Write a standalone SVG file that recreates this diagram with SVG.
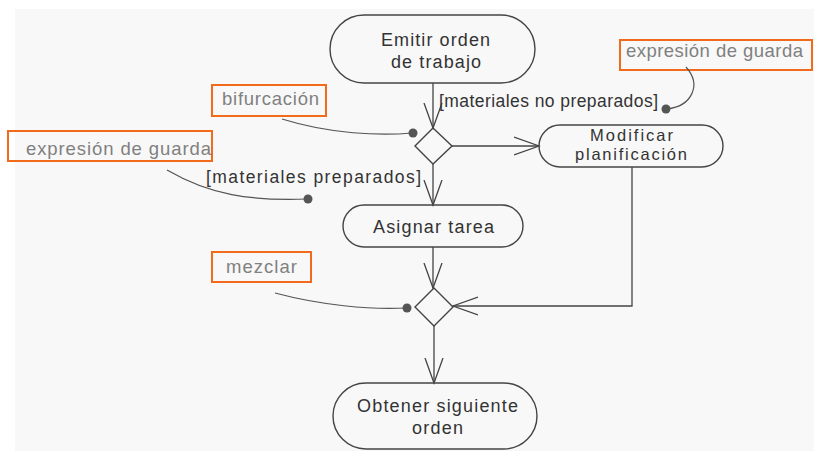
<svg xmlns="http://www.w3.org/2000/svg" width="814" height="451" viewBox="0 0 814 451">
<style>
.n{fill:none;stroke:#444;stroke-width:1.4}
.t{font-family:"Liberation Sans",Arial,sans-serif;font-size:18px;fill:#333}
.m{font-family:"Liberation Sans",Arial,sans-serif;font-size:16.5px;fill:#333}
.g{font-family:"Liberation Sans",Arial,sans-serif;font-size:17.5px;fill:#333}
.a{font-family:"Liberation Sans",Arial,sans-serif;font-size:18.5px;fill:#808080}
.box{fill:none;stroke:#f26a1b;stroke-width:2}
.c{fill:none;stroke:#444;stroke-width:1.3}
.l{fill:none;stroke:#555;stroke-width:1.2}
.d{fill:#555}
</style>
<defs>
<marker id="arr" markerUnits="userSpaceOnUse" markerWidth="28" markerHeight="22" refX="25" refY="10" orient="auto">
<path d="M0,1 L25,10 L0,19" fill="none" stroke="#444" stroke-width="1.3"/>
</marker>
</defs>
<rect x="0" y="0" width="814" height="451" fill="#ffffff"/>
<rect x="15" y="9" width="799" height="442" fill="#f8f8f8"/>
<g id="connectors">
<line class="c" x1="433" y1="83" x2="433" y2="128" marker-end="url(#arr)"/>
<line class="c" x1="452" y1="146" x2="539" y2="146" marker-end="url(#arr)"/>
<line class="c" x1="433" y1="164" x2="433" y2="205" marker-end="url(#arr)"/>
<line class="c" x1="433" y1="247" x2="433" y2="288" marker-end="url(#arr)"/>
<polyline class="c" points="632,167 632,306 453,306" marker-end="url(#arr)"/>
<line class="c" x1="434" y1="326" x2="434" y2="383" marker-end="url(#arr)"/>
</g>
<g id="emitir">
<rect class="n" x="330" y="15" width="205" height="68" rx="34"/>
<text class="t" x="381" y="46" textLength="109">Emitir orden</text>
<text class="t" x="391" y="68" textLength="90">de trabajo</text>
</g>
<g id="bifurcacion">
<polygon class="n" points="433,128 452,146 433,164 415,146"/>
</g>
<g id="modificar">
<rect class="n" x="539" y="125" width="184" height="42" rx="21"/>
<text class="m" x="590" y="141" textLength="83">Modificar</text>
<text class="m" x="575" y="160" textLength="112">planificación</text>
</g>
<g id="asignar">
<rect class="n" x="343" y="205" width="180" height="42" rx="21"/>
<text class="t" x="373" y="233" textLength="121">Asignar tarea</text>
</g>
<g id="mezcla">
<polygon class="n" points="434,288 453,307 434,326 415,307"/>
</g>
<g id="obtener">
<rect class="n" x="333" y="383" width="204" height="66" rx="33"/>
<text class="t" x="357" y="412" textLength="161">Obtener siguiente</text>
<text class="t" x="412" y="434" textLength="51">orden</text>
</g>
<g id="guards">
<text class="g" x="439" y="107" textLength="219">[materiales no preparados]</text>
<text class="g" x="206" y="183" textLength="215">[materiales preparados]</text>
</g>
<g id="note-bifurcacion">
<rect class="box" x="212" y="85" width="114" height="31"/>
<text class="a" x="222" y="105" textLength="97">bifurcación</text>
<path class="l" d="M282,119 C330,134 380,136 412,133"/>
<circle class="d" cx="413" cy="133" r="4.5"/>
</g>
<g id="note-guarda-izq">
<rect class="box" x="8" y="131" width="204" height="30"/>
<text class="a" x="26" y="155" textLength="185">expresión de guarda</text>
<path class="l" d="M167,170 C210,195 250,201 307,199"/>
<circle class="d" cx="308" cy="199" r="4.5"/>
</g>
<g id="note-guarda-der">
<rect class="box" x="620" y="40" width="192" height="30"/>
<text class="a" x="626" y="57" textLength="177">expresión de guarda</text>
<path class="l" d="M686,67 C702,85 692,106 667,109"/>
<circle class="d" cx="666" cy="109" r="4.5"/>
</g>
<g id="note-mezclar">
<rect class="box" x="212" y="252" width="99" height="30"/>
<text class="a" x="226" y="273" textLength="71">mezclar</text>
<path class="l" d="M275,293 C320,305 370,310 406,308"/>
<circle class="d" cx="407" cy="308" r="4.5"/>
</g>
</svg>
